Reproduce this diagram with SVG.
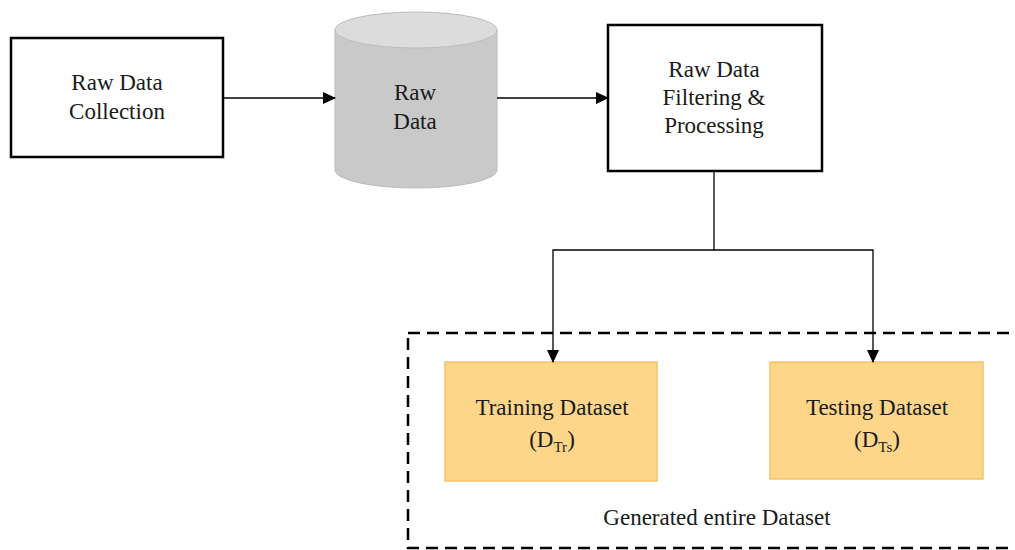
<svg xmlns="http://www.w3.org/2000/svg" width="1015" height="550" viewBox="0 0 1015 550">
<defs>
<marker id="ah" markerWidth="13" markerHeight="12" refX="12" refY="6" orient="auto" markerUnits="userSpaceOnUse">
<path d="M0,0 L13,6 L0,12 Z" fill="#000"/>
</marker>
</defs>
<rect width="1015" height="550" fill="#fff"/>
<g id="outer">
<rect x="408" y="333" width="620" height="215" fill="none" stroke="#000" stroke-width="2.5" stroke-dasharray="12,7"/>
<text x="717" y="525" style="font-family:'Liberation Serif',serif" font-size="23" fill="#1a1a1a" text-anchor="middle">Generated entire Dataset</text>
</g>
<g id="collection">
<rect x="11" y="38" width="212" height="119" fill="#fff" stroke="#000" stroke-width="2.5"/>
<text x="117" y="90" style="font-family:'Liberation Serif',serif" font-size="23" fill="#1a1a1a" text-anchor="middle">Raw Data</text>
<text x="117" y="119" style="font-family:'Liberation Serif',serif" font-size="23" fill="#1a1a1a" text-anchor="middle">Collection</text>
</g>
<g id="rawdata">
<path d="M335,30 L335,170 A81,18 0 0 0 497,170 L497,30 Z" fill="#c9c9c9" stroke="#bdbdbd" stroke-width="1"/>
<ellipse cx="416" cy="30" rx="81" ry="18" fill="#dcdcdc" stroke="#bdbdbd" stroke-width="1"/>
<text x="415" y="100" style="font-family:'Liberation Serif',serif" font-size="23" fill="#1a1a1a" text-anchor="middle">Raw</text>
<text x="415" y="129" style="font-family:'Liberation Serif',serif" font-size="23" fill="#1a1a1a" text-anchor="middle">Data</text>
</g>
<g id="filtering">
<rect x="608" y="25" width="214" height="146" fill="#fff" stroke="#000" stroke-width="2.5"/>
<text x="714" y="77" style="font-family:'Liberation Serif',serif" font-size="23" fill="#1a1a1a" text-anchor="middle">Raw Data</text>
<text x="714" y="105" style="font-family:'Liberation Serif',serif" font-size="23" fill="#1a1a1a" text-anchor="middle">Filtering &amp;</text>
<text x="714" y="133" style="font-family:'Liberation Serif',serif" font-size="23" fill="#1a1a1a" text-anchor="middle">Processing</text>
</g>
<g id="training">
<rect x="445" y="362" width="212" height="119" fill="#fdd68a" stroke="#f2c36a" stroke-width="1.5"/>
<text x="552" y="415" style="font-family:'Liberation Serif',serif" font-size="23" fill="#1a1a1a" text-anchor="middle">Training Dataset</text>
<text x="552" y="447" style="font-family:'Liberation Serif',serif" font-size="23" fill="#1a1a1a" text-anchor="middle">(D<tspan font-size="15" dy="5">Tr</tspan><tspan dy="-5">)</tspan></text>
</g>
<g id="testing">
<rect x="770" y="362" width="213" height="117" fill="#fdd68a" stroke="#f2c36a" stroke-width="1.5"/>
<text x="877" y="415" style="font-family:'Liberation Serif',serif" font-size="23" fill="#1a1a1a" text-anchor="middle">Testing Dataset</text>
<text x="877" y="447" style="font-family:'Liberation Serif',serif" font-size="23" fill="#1a1a1a" text-anchor="middle">(D<tspan font-size="15" dy="5">Ts</tspan><tspan dy="-5">)</tspan></text>
</g>
<g id="connectors" fill="none" stroke="#000" stroke-width="1.3">
<line x1="223" y1="98" x2="335" y2="98" marker-end="url(#ah)"/>
<line x1="497" y1="98" x2="608" y2="98" marker-end="url(#ah)"/>
<path d="M714,171 L714,250 L553,250 L553,362" marker-end="url(#ah)"/>
<path d="M714,250 L873,250 L873,362" marker-end="url(#ah)"/>
</g>
</svg>
